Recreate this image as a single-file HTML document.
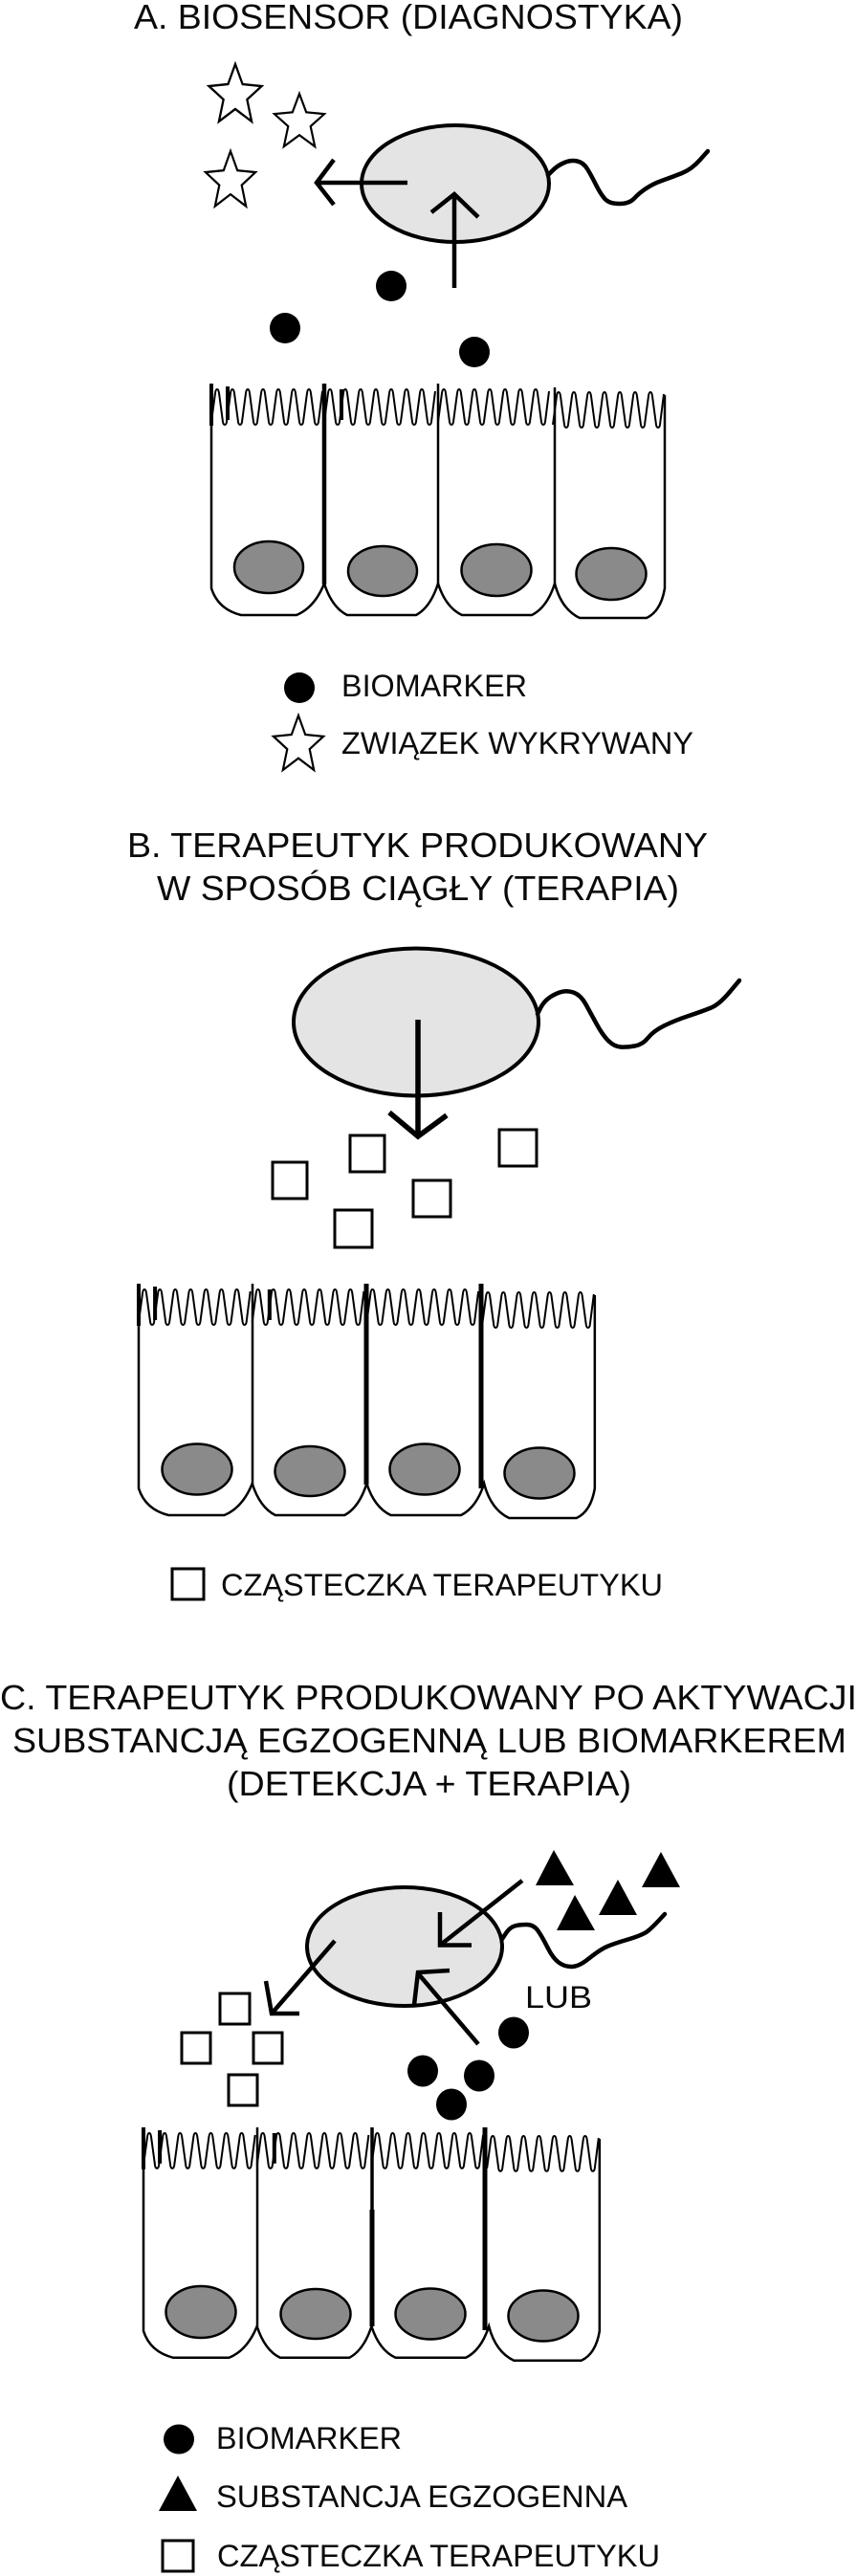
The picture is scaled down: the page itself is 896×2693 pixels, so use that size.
<!DOCTYPE html>
<html lang="pl">
<head>
<meta charset="utf-8">
<title>Biosensor</title>
<style>
html,body{margin:0;padding:0;background:#fff}
svg{display:block}
text{font-family:"Liberation Sans","Noto Sans CJK SC",sans-serif;fill:#0a0a0a}
.t{font-size:36px}
.l{font-size:32px}
.e{fill:#e4e4e4;stroke:#000;stroke-width:4}
.n{fill:#8a8a8a;stroke:#000;stroke-width:2.5}
.f{fill:none;stroke:#000;stroke-width:4.5;stroke-linejoin:round;stroke-linecap:round}
.a{fill:none;stroke:#000;stroke-width:4.5;stroke-linejoin:miter}
.s{fill:#fff;stroke:#000;stroke-width:3}
</style>
</head>
<body>
<svg xmlns="http://www.w3.org/2000/svg" width="896" height="2693" viewBox="0 0 896 2693">
<defs>
<path id="mv" fill="none" stroke="#000" stroke-width="2" d="M0,40 l4,-30 q.5,-4 2,-4 t2,4 l4,30 q.5,3 2,3 t2,-3 l4,-30 q.5,-4 2,-4 t2,4 l4,30 q.5,3 2,3 t2,-3 l4,-30 q.5,-4 2,-4 t2,4 l4,30 q.5,3 2,3 t2,-3 l4,-30 q.5,-4 2,-4 t2,4 l4,30 q.5,3 2,3 t2,-3 l4,-30 q.5,-4 2,-4 t2,4 l4,30 q.5,3 2,3 t2,-3 l4,-30 q.5,-4 2,-4 t2,4 l4,30 q.5,3 2,3 t2,-3 l4,-30 q.5,-4 2,-4 t2,4 l4,30 q.5,3 2,3 t2,-3 l4,-32"/>
<g id="cells">
<use href="#mv"/>
<use href="#mv" x="118"/>
<use href="#mv" x="237"/>
<use href="#mv" x="357" y="3"/>
<path fill="none" stroke="#000" stroke-width="2.5" d="M0,0 V214 Q7,236 31,242 H89 Q108,234 118,209 Q126,234 142,242 H214 Q229,234 237,209 Q245,234 262,242 H335 Q351,234 359,209 Q366,236 385,245 H455 Q470,238 474,214 V12"/>
<path fill="none" stroke="#000" stroke-width="4" d="M0,0 V44 M17,3 V38 M136,6 V38"/>
</g>
<polygon id="star" fill="#fff" stroke="#000" stroke-width="2.4" points="0,0 8,21 29,23 13,37 18,60 0,47 -18,60 -13,37 -29,23 -8,21"/>
</defs>

<!-- A -->
<text class="t" x="140" y="30" textLength="574" lengthAdjust="spacingAndGlyphs">A. BIOSENSOR (DIAGNOSTYKA)</text>
<use href="#star" transform="translate(246,67) scale(.95,1)"/>
<use href="#star" transform="translate(313,98) scale(.9,.92)"/>
<use href="#star" transform="translate(241,158) scale(.9,.96)"/>
<ellipse class="e" cx="476" cy="192" rx="98" ry="61"/>
<path class="f" d="M573,183 L578,178 Q583,173 590,170 Q597,167 603.5,168.5 Q610,170 614,176.5 Q618,183 623,193 Q628,203 632.5,208 Q637,213 647.5,213 Q658,213 663,207.5 Q668,202 675.5,197 Q683,192 693,188.5 Q703,185 713,181 Q723,177 731.5,167.5 L740,158"/>
<path class="a" d="M426,191 H331 M349,167 L331,191 L349,214"/>
<path class="a" d="M475,301 V204 M451,222 L475,203 L500,227"/>
<ellipse cx="409" cy="299" rx="16" ry="16"/>
<ellipse cx="298" cy="343" rx="16" ry="16"/>
<ellipse cx="496" cy="368" rx="16" ry="16"/>
<use href="#cells" transform="translate(221,401)"/>
<path fill="none" stroke="#000" stroke-width="4.5" d="M339,401 V611"/>
<path fill="none" stroke="#000" stroke-width="2.5" d="M458,401 V611 M580,405 V611"/>
<ellipse class="n" cx="281" cy="593" rx="36" ry="27"/>
<ellipse class="n" cx="400" cy="597" rx="36" ry="26"/>
<ellipse class="n" cx="519" cy="596" rx="36.5" ry="27"/>
<ellipse class="n" cx="639" cy="600" rx="36.5" ry="27"/>
<ellipse cx="313" cy="719" rx="16" ry="16"/>
<text class="l" x="357" y="728" textLength="194" lengthAdjust="spacingAndGlyphs">BIOMARKER</text>
<use href="#star" transform="translate(312,748) scale(.9,.95)"/>
<text class="l" x="357" y="788" textLength="368" lengthAdjust="spacingAndGlyphs">ZWIĄZEK WYKRYWANY</text>

<!-- B -->
<text class="t" x="133" y="896" textLength="607" lengthAdjust="spacingAndGlyphs">B. TERAPEUTYK PRODUKOWANY</text>
<text class="t" x="164" y="941" textLength="546" lengthAdjust="spacingAndGlyphs">W SPOSÓB CIĄGŁY (TERAPIA)</text>
<ellipse class="e" cx="435" cy="1068.5" rx="128" ry="77"/>
<path class="f" d="M562,1060 L565,1054 Q568,1048 573,1044 Q578,1040 585,1037.5 Q592,1035 599.5,1037.5 Q607,1040 612.5,1050 Q618,1060 624,1071 Q630,1082 636,1088 Q642,1094 648.5,1094.5 Q655,1095 663.5,1093.5 Q672,1092 677.5,1085 Q683,1078 694,1072.5 Q705,1067 720,1062 Q735,1057 743.5,1053.5 Q752,1050 762.5,1037.5 L773,1025"/>
<path class="a" style="stroke-width:5.5" d="M437,1066 V1187 M407,1163 L437,1188 L467,1166"/>
<rect class="s" x="366" y="1187" width="36" height="38"/>
<rect class="s" x="285" y="1215" width="36" height="38"/>
<rect class="s" x="522" y="1181" width="39" height="38"/>
<rect class="s" x="432" y="1234" width="39" height="38"/>
<rect class="s" x="350" y="1265" width="39" height="39"/>
<use href="#cells" transform="translate(145,1342) scale(1.006,1)"/>
<path fill="none" stroke="#000" stroke-width="2.5" d="M264,1342 V1552"/>
<path fill="none" stroke="#000" stroke-width="5" d="M383,1342 V1552 M503,1342 V1556"/>
<ellipse class="n" cx="206" cy="1536" rx="36.5" ry="26.5"/>
<ellipse class="n" cx="324" cy="1538" rx="36.5" ry="26"/>
<ellipse class="n" cx="444" cy="1536" rx="36.5" ry="26.5"/>
<ellipse class="n" cx="564" cy="1540" rx="36.5" ry="26.5"/>
<rect class="s" x="180" y="1640" width="33" height="32"/>
<text class="l" x="231" y="1668" textLength="462" lengthAdjust="spacingAndGlyphs">CZĄSTECZKA TERAPEUTYKU</text>

<!-- C -->
<text class="t" x="0" y="1787" textLength="896" lengthAdjust="spacingAndGlyphs">C. TERAPEUTYK PRODUKOWANY PO AKTYWACJI</text>
<text class="t" x="13" y="1832" textLength="872" lengthAdjust="spacingAndGlyphs">SUBSTANCJĄ EGZOGENNĄ LUB BIOMARKEREM</text>
<text class="t" x="237" y="1877" textLength="423" lengthAdjust="spacingAndGlyphs">(DETEKCJA + TERAPIA)</text>
<ellipse class="e" cx="423" cy="2035" rx="102" ry="62"/>
<path class="f" d="M525,2027 L529,2021 Q533,2015 538,2013.5 Q543,2012 550.5,2012 Q558,2012 562.5,2018.5 Q567,2025 572.5,2036 Q578,2047 584,2051.5 Q590,2056 597.5,2056 Q605,2056 615,2048 Q625,2040 631.5,2036.5 Q638,2033 655,2028 Q672,2023 677,2019 Q682,2015 688.5,2008 L695,2001"/>
<path class="a" d="M546,1966 L462,2032 M460,1999 L460,2033.5 L493,2033.5"/>
<path class="a" d="M350,2029 L284,2105 M278,2071 L284,2105 L313,2105"/>
<path class="a" d="M500,2137 L437,2063 M470,2060 L437,2062 L433,2096"/>
<polygon points="579,1934 560,1971 600,1971"/>
<polygon points="601,1981 582,2018 622,2018"/>
<polygon points="646,1965 626,2002 666,2002"/>
<polygon points="691,1936 671,1973 711,1973"/>
<text class="l" x="549" y="2099" textLength="70" lengthAdjust="spacingAndGlyphs">LUB</text>
<ellipse cx="537" cy="2125" rx="16" ry="16.5"/>
<ellipse cx="442" cy="2165" rx="16" ry="16.5"/>
<ellipse cx="501" cy="2170" rx="16" ry="16.5"/>
<ellipse cx="472" cy="2200" rx="16" ry="16.5"/>
<rect class="s" x="230" y="2084" width="31" height="32"/>
<rect class="s" x="190" y="2125" width="30" height="32"/>
<rect class="s" x="265" y="2125" width="30" height="32"/>
<rect class="s" x="239" y="2169" width="30" height="32"/>
<use href="#cells" transform="translate(150,2224) scale(1.006,.995)"/>
<path fill="none" stroke="#000" stroke-width="2.5" d="M269,2224 V2432"/>
<path fill="none" stroke="#000" stroke-width="3.5" d="M389,2224 V2310"/>
<path fill="none" stroke="#000" stroke-width="5" d="M389,2310 V2432 M507,2224 V2436"/>
<ellipse class="n" cx="210" cy="2417" rx="36.5" ry="27"/>
<ellipse class="n" cx="330" cy="2419" rx="36.5" ry="26"/>
<ellipse class="n" cx="450" cy="2419" rx="36.5" ry="26.5"/>
<ellipse class="n" cx="568" cy="2421" rx="36.5" ry="26.5"/>
<ellipse cx="187" cy="2550" rx="16" ry="15.5"/>
<text class="l" x="226" y="2560" textLength="194" lengthAdjust="spacingAndGlyphs">BIOMARKER</text>
<polygon points="186,2588 166,2625 206,2625"/>
<text class="l" x="226" y="2621" textLength="430" lengthAdjust="spacingAndGlyphs">SUBSTANCJA EGZOGENNA</text>
<rect class="s" x="170" y="2656" width="32" height="32"/>
<text class="l" x="227" y="2683" textLength="463" lengthAdjust="spacingAndGlyphs">CZĄSTECZKA TERAPEUTYKU</text>
</svg>
</body>
</html>
